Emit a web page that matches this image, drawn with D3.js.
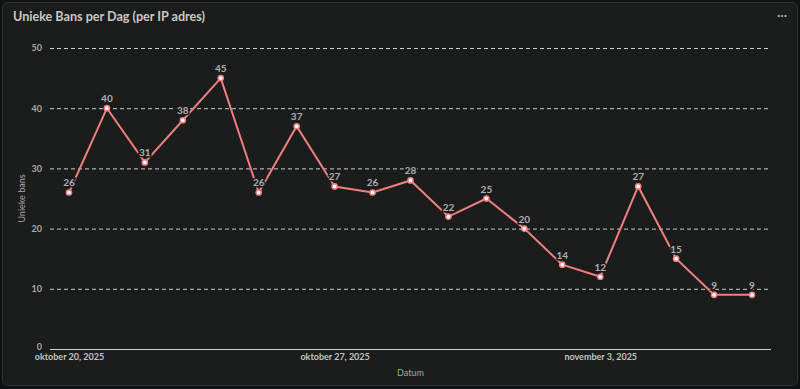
<!DOCTYPE html>
<html lang="nl">
<head>
<meta charset="UTF-8">
<title>Unieke Bans per Dag</title>
<script src="https://d3js.org/d3.v7.min.js"></script>
<style>
	html, body { margin: 0; padding: 0; background: #111213; }
	svg { display: block; }
	text { font-family: Lato, "Noto Sans", sans-serif; }
</style>
</head>
<body>
<div id="chart"></div>
<script>
	const dates = ["2025-10-20", "2025-10-21", "2025-10-22", "2025-10-23", "2025-10-24", "2025-10-25",
		"2025-10-26", "2025-10-27", "2025-10-28", "2025-10-29", "2025-10-30", "2025-10-31",
		"2025-11-01", "2025-11-02", "2025-11-03", "2025-11-04", "2025-11-05", "2025-11-06", "2025-11-07"];
	const bans = [26, 40, 31, 38, 45, 26, 37, 27, 26, 28, 22, 25, 20, 14, 12, 27, 15, 9, 9];
	const yTicks = [0, 10, 20, 30, 40, 50];
	const xTicks = ["2025-10-20", "2025-10-27", "2025-11-03"];

	const W = 800, H = 389;
	const margin = { top: 48, right: 29, bottom: 40, left: 50 };
	const parse = d3.timeParse("%Y-%m-%d");
	const data = dates.map((d, i) => ({ date: parse(d), value: bans[i] }));

	const svg = d3.create("svg").attr("width", W).attr("height", H);

	// card
	svg.append("rect")
		.attr("x", 2.5).attr("y", 2.5)
		.attr("width", W - 5).attr("height", H - 6)
		.attr("rx", 5)
		.attr("fill", "#1b1c1c")
		.attr("stroke", "#2e3030");

	svg.append("text")
		.attr("x", 13).attr("y", 21)
		.attr("fill", "#c9c9c9")
		.style("font-size", "12.6px")
		.style("font-weight", "bold")
		.text("Unieke Bans per Dag (per IP adres)");

	svg.append("text")
		.attr("x", 782).attr("y", 19)
		.attr("text-anchor", "middle")
		.attr("fill", "#aaa")
		.style("font-size", "12px")
		.style("font-weight", "bold")
		.text("···");

	const first = data[0].date, last = data[data.length - 1].date;
	const x = d3.scaleTime()
		.domain([d3.timeHour.offset(first, -12), d3.timeHour.offset(last, 12)])
		.range([margin.left, W - margin.right]);
	const y = d3.scaleLinear()
		.domain([0, 50])
		.range([H - margin.bottom, margin.top]);

	// grid
	svg.append("g")
		.selectAll("line")
		.data(yTicks.filter(t => t > 0))
		.join("line")
		.attr("x1", margin.left).attr("x2", W - margin.right)
		.attr("y1", d => y(d) + 0.5).attr("y2", d => y(d) + 0.5)
		.attr("stroke", "#cfcfcf")
		.attr("stroke-dasharray", "4,3");

	// baseline
	svg.append("line")
		.attr("x1", margin.left).attr("x2", W - margin.right)
		.attr("y1", y(0) + 0.5).attr("y2", y(0) + 0.5)
		.attr("stroke", "#d0d0d0");

	// y axis labels
	const yAxis = d3.axisLeft(y).tickValues(yTicks).tickSize(0).tickPadding(8);
	const gy = svg.append("g").attr("transform", `translate(${margin.left},0)`).call(yAxis);
	gy.select(".domain").remove();
	gy.selectAll("text")
		.attr("fill", "#a8a8a8")
		.style("font-size", "9px")
		.style("font-weight", "bold")
		.style("font-family", "Lato, sans-serif");
	gy.selectAll(".tick").filter(d => d === 0).select("text").attr("dy", "0.1em");

	// x axis labels
	const fmt = d => `${d3.timeFormat("%B")(d).toLowerCase().replace("october", "oktober")} ${d.getDate()}, ${d.getFullYear()}`;
	const xAxis = d3.axisBottom(x).tickValues(xTicks.map(parse)).tickSize(0).tickPadding(5).tickFormat(fmt);
	const gx = svg.append("g").attr("transform", `translate(0,${y(0)})`).call(xAxis);
	gx.select(".domain").remove();
	gx.selectAll("text")
		.attr("fill", "#c4c4c4")
		.style("font-size", "9px")
		.style("font-weight", "bold")
		.style("font-family", "Lato, sans-serif");

	svg.append("text")
		.attr("x", (margin.left + W - margin.right) / 2).attr("y", 376)
		.attr("text-anchor", "middle")
		.attr("fill", "#a8a8a8")
		.style("font-size", "9px")
		.text("Datum");

	svg.append("text")
		.attr("transform", `translate(25,${(margin.top + H - margin.bottom) / 2}) rotate(-90)`)
		.attr("text-anchor", "middle")
		.attr("fill", "#a8a8a8")
		.style("font-size", "9px")
		.text("Unieke bans");

	// line
	const line = d3.line().x(d => x(d.date)).y(d => y(d.value));
	svg.append("path")
		.datum(data)
		.attr("d", line)
		.attr("fill", "none")
		.attr("stroke", "#f07f7f")
		.attr("stroke-width", 2);

	svg.append("g")
		.selectAll("circle")
		.data(data)
		.join("circle")
		.attr("cx", d => x(d.date)).attr("cy", d => y(d.value))
		.attr("r", 2.6)
		.attr("fill", "#fff")
		.attr("stroke", "#f07f7f")
		.attr("stroke-width", 1.5);

	// value labels
	svg.append("g")
		.selectAll("text")
		.data(data)
		.join("text")
		.attr("x", d => x(d.date)).attr("y", d => y(d.value) - 6)
		.attr("text-anchor", "middle")
		.attr("fill", "#b0b0b0")
		.attr("stroke", "#1b1c1c")
		.attr("stroke-width", 3)
		.attr("paint-order", "stroke")
		.style("font-size", "10px")
		.style("font-weight", "bold")
		.text(d => d.value);

	document.getElementById("chart").append(svg.node());
</script>
</body>
</html>
